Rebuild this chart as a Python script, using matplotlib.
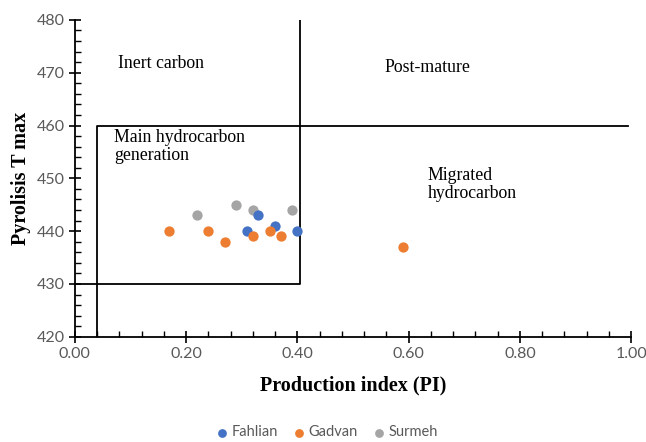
import matplotlib.pyplot as plt
from matplotlib.ticker import MultipleLocator

# data
fahlian_pi = [0.31, 0.33, 0.36, 0.40]
fahlian_tmax = [440, 443, 441, 440]

gadvan_pi = [0.17, 0.24, 0.27, 0.32, 0.35, 0.37, 0.59]
gadvan_tmax = [440, 440, 438, 439, 440, 439, 437]

surmeh_pi = [0.22, 0.29, 0.32, 0.39]
surmeh_tmax = [443, 445, 444, 444]

# zone boundaries (PI, Tmax)
main_zone_x = [0.04, 0.04, 0.995]
main_zone_y = [420, 460, 460]
inert_zone_x = [0.0, 0.405, 0.405]
inert_zone_y = [430, 430, 480]

zone_labels = [
    ("Inert carbon", 0.077, 471.7),
    ("Post-mature", 0.557, 470.9),
    ("Main hydrocarbon\ngeneration", 0.070, 456.0),
    ("Migrated\nhydrocarbon", 0.634, 448.8),
]

serif = "Liberation Serif"
sans = ["Lato", "DejaVu Sans"]
tick_color = "#595959"

fig = plt.figure(figsize=(6.46, 4.42), dpi=100)
ax = fig.add_axes([0.116, 0.238, 0.861, 0.717])

ax.plot(main_zone_x, main_zone_y, color="black", linewidth=1.3, zorder=1)
ax.plot(inert_zone_x, inert_zone_y, color="black", linewidth=1.3, zorder=1)

ax.scatter(fahlian_pi, fahlian_tmax, s=55, color="#4472C4", label="Fahlian",
           linewidths=0, zorder=3)
ax.scatter(gadvan_pi, gadvan_tmax, s=55, color="#ED7D31", label="Gadvan",
           linewidths=0, zorder=3)
ax.scatter(surmeh_pi, surmeh_tmax, s=55, color="#A5A5A5", label="Surmeh",
           linewidths=0, zorder=2)

for text, x, y in zone_labels:
    ax.text(x, y, text, fontfamily=serif, fontsize=12.8, va="center", ha="left",
            linespacing=1.1)

ax.set_xlim(0, 1.0)
ax.set_ylim(420, 480)
ax.xaxis.set_major_locator(MultipleLocator(0.2))
ax.xaxis.set_minor_locator(MultipleLocator(0.04))
ax.yaxis.set_major_locator(MultipleLocator(10))
ax.yaxis.set_minor_locator(MultipleLocator(2))
ax.xaxis.set_major_formatter(lambda v, p: f"{v:.2f}")

ax.tick_params(which="major", direction="inout", length=8, width=1.2,
               colors="black", labelcolor=tick_color, labelsize=11.5)
ax.tick_params(which="minor", direction="in", length=4, width=1.0, colors="black")
for lab in ax.get_xticklabels() + ax.get_yticklabels():
    lab.set_fontfamily(sans)

ax.spines["top"].set_visible(False)
ax.spines["right"].set_visible(False)
ax.spines["left"].set_linewidth(1.3)
ax.spines["bottom"].set_linewidth(1.3)

ax.set_xlabel("Production index (PI)", fontfamily=serif, fontweight="bold",
              fontsize=14.5, labelpad=10)
ax.set_ylabel("Pyrolisis T max", fontfamily=serif, fontweight="bold",
              fontsize=14.5, labelpad=4)

fig.legend(loc="lower center", bbox_to_anchor=(0.505, -0.024), ncol=3,
           frameon=False, handlelength=1.0, handletextpad=0.2, columnspacing=0.9,
           prop={"family": sans, "size": 10.5}, labelcolor=tick_color,
           markerscale=0.85)

fig.savefig("out.png", dpi=100)
